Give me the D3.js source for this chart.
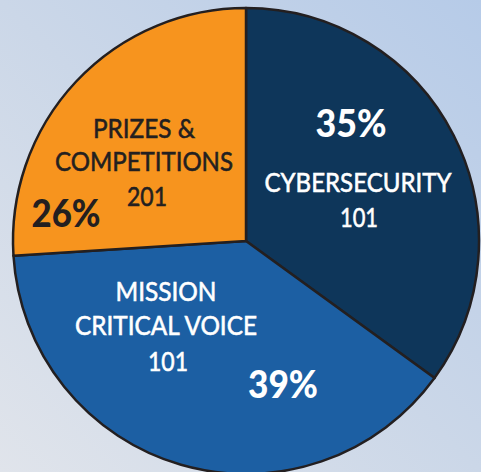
<!DOCTYPE html>
<meta charset="utf-8">
<style>
  body { margin: 0; }
  svg { display: block; }
</style>
<script src="https://cdn.jsdelivr.net/npm/d3@7"></script>
<body>
</body>
<script>

// data
var categories = ["CYBERSECURITY", "MISSION CRITICAL VOICE", "PRIZES & COMPETITIONS"];
var shares     = [35, 39, 26];
var courses    = ["101", "101", "201"];

var colors   = ["#0e365a", "#1c5fa3", "#f7941e"];
var inkColor = ["#ffffff", "#ffffff", "#231f20"];

// label layout: each line as [text, dx, dy(baseline), width, bold] relative to pie centre
var labelLines = [
  [ ["35%", 105, -104, 71, true], ["CYBERSECURITY", 112, -49, 187, false], ["101", 113, -14, 38, false] ],
  [ ["MISSION", -80, 60, 101, false], ["CRITICAL VOICE", -80, 94, 182, false], ["101", -78, 130, 40, false], ["39%", 37, 157, 70, true] ],
  [ ["PRIZES &", -102, -103, 102, false], ["COMPETITIONS", -102, -70, 178, false], ["201", -99, -35, 40, false], ["26%", -180, -14, 69, true] ]
];

const width = 481, height = 472;
const cx = 246, cy = 241, radius = 233;

var svg = d3.select("body").append("svg")
  .attr("width", width)
  .attr("height", height);

var grad = svg.append("defs").append("linearGradient")
  .attr("id", "bg")
  .attr("x1", 1).attr("y1", 0).attr("x2", 0).attr("y2", 1);
grad.append("stop").attr("offset", 0).attr("stop-color", "#b6cbe8");
grad.append("stop").attr("offset", 0.5).attr("stop-color", "#cbd7e8");
grad.append("stop").attr("offset", 1).attr("stop-color", "#e0e4eb");

svg.append("rect")
  .attr("width", width).attr("height", height)
  .attr("fill", "url(#bg)");

var pie = d3.pie().sort(null).value(d => d);
var arc = d3.arc().innerRadius(0).outerRadius(radius);

var g = svg.append("g").attr("transform", `translate(${cx},${cy})`);

g.selectAll("path.slice")
  .data(pie(shares))
  .enter()
  .append("path")
  .attr("class", "slice")
  .attr("d", arc)
  .attr("fill", (d, i) => colors[i])
  .attr("stroke", "#231f20")
  .attr("stroke-width", 2.5)
  .attr("stroke-linejoin", "round");

categories.forEach(function(cat, i) {
  g.selectAll(null)
    .data(labelLines[i])
    .enter()
    .append("text")
    .attr("x", d => d[1])
    .attr("y", d => d[2])
    .attr("text-anchor", "middle")
    .attr("textLength", d => d[3])
    .attr("lengthAdjust", "spacingAndGlyphs")
    .attr("font-family", "Lato, 'Open Sans', sans-serif")
    .attr("font-weight", d => d[4] ? 900 : 400)
    .attr("font-size", d => d[4] ? 37 : 27.5)
    .attr("fill", inkColor[i])
    .attr("stroke", d => d[4] ? "none" : inkColor[i])
    .attr("stroke-width", 0.6)
    .text(d => d[0]);
});

</script>
